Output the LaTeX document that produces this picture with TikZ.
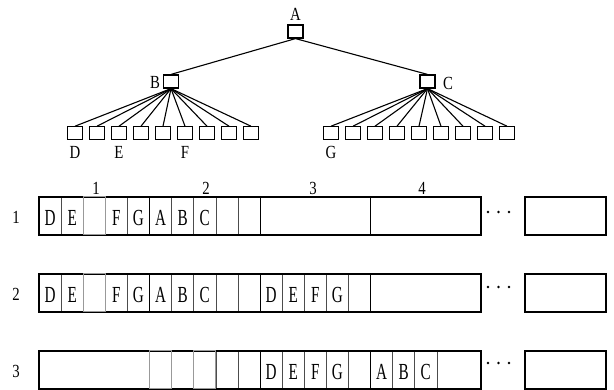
\documentclass[tikz,border=0pt]{standalone}
\usepackage{fontspec}
\setmainfont{Liberation Serif}
\newfontfamily\labelfont[FakeStretch=0.8]{Liberation Serif}
\newfontfamily\cellfont[FakeStretch=0.66]{Liberation Serif}
\begin{document}
\begin{tikzpicture}[x=1pt,y=-1pt,
  tbox/.style={draw, line width=1.2pt, minimum width=15pt, minimum height=13pt, inner sep=0pt, fill=white},
  lbl/.style={inner sep=0pt, font=\labelfont\fontsize{18.5}{18.5}\selectfont},
  cell/.style={inner sep=0pt, font=\cellfont\fontsize{23}{23}\selectfont},
  frame/.style={line width=1.4pt},
  pagesep/.style={line width=1pt},
  divider/.style={line width=0.5pt, black!70},
  freecell/.style={draw=black!40, line width=1pt},
  edge/.style={line width=1.1pt},
  dot/.style={circle, fill, inner sep=0pt, minimum size=2.6pt}
]
\useasboundingbox (0,0) rectangle (614,390);

% ---------- tree ----------
\node[tbox] (A) at (295.5,31.5) {};
\node[tbox] (B) at (171,81.5) {};
\node[tbox] (C) at (427.5,81.5) {};
\node[lbl] (lA) at (295.5,14) {A};
\node[lbl] (lB) at (155,82) {B};
\node[lbl] (lC) at (448,83) {C};
\draw[edge] (A.south) -- (B.north);
\draw[edge] (A.south) -- (C.north);
\foreach \i in {0,...,8} {
  \node[tbox] (b\i) at ({75+22*\i},133.3) {};
  \draw[edge] (B.south) -- (b\i.north);
  \node[tbox] (c\i) at ({331+22*\i},133.3) {};
  \draw[edge] (C.south) -- (c\i.north);
}
\node[lbl] (lD) at (75,152) {D};
\node[lbl] (lE) at (119,152) {E};
\node[lbl] (lF) at (185,152) {F};
\node[lbl] (lG) at (331,152) {G};

% ---------- page numbers ----------
\node[lbl] (p1) at (96,188) {1};
\node[lbl] (p2) at (206,188) {2};
\node[lbl] (p3) at (313,188) {3};
\node[lbl] (p4) at (422,188) {4};

% ---------- row 1 ----------
\node[lbl] (row1) at (16,217) {1};
\foreach \k in {1,2,3,4,6,7,8,9}
  \draw[divider] ({39+22.1*\k},197) -- ({39+22.1*\k},235);
\foreach \k/\t in {0/D,1/E,3/F,4/G,5/A,6/B,7/C}
  \node[cell] (r1c\k) at ({39+22.1*(\k+0.5)},218) {\t};
\draw[pagesep] (149.5,197) -- (149.5,235);
\draw[pagesep] (260,197) -- (260,235);
\draw[pagesep] (370.5,197) -- (370.5,235);
\draw[frame] (39,197) rectangle (481,235);
\draw[freecell] ({39+22.1*2},197) rectangle ({39+22.1*3},235);
\draw[frame] (525,197) rectangle (606,235);
\node[dot] (d1a) at (488,212) {};
\node[dot] (d1b) at (498.5,212) {};
\node[dot] (d1c) at (509,212) {};

% ---------- row 2 ----------
\node[lbl] (row2) at (16,294) {2};
\foreach \k in {1,2,3,4,6,7,8,9,11,12,13,14}
  \draw[divider] ({39+22.1*\k},274) -- ({39+22.1*\k},312);
\foreach \k/\t in {0/D,1/E,3/F,4/G,5/A,6/B,7/C,10/D,11/E,12/F,13/G}
  \node[cell] (r2c\k) at ({39+22.1*(\k+0.5)},295) {\t};
\draw[pagesep] (149.5,274) -- (149.5,312);
\draw[pagesep] (260,274) -- (260,312);
\draw[pagesep] (370.5,274) -- (370.5,312);
\draw[frame] (39,274) rectangle (481,312);
\draw[freecell] ({39+22.1*2},274) rectangle ({39+22.1*3},312);
\draw[frame] (525,274) rectangle (606,312);
\node[dot] (d2a) at (488,287) {};
\node[dot] (d2b) at (498.5,287) {};
\node[dot] (d2c) at (509,287) {};

% ---------- row 3 ----------
\node[lbl] (row3) at (16,371) {3};
\foreach \k in {6,7,8,9,11,12,13,14,16,17,18}
  \draw[divider] ({39+22.1*\k},351) -- ({39+22.1*\k},389);
\foreach \k/\t in {10/D,11/E,12/F,13/G,15/A,16/B,17/C}
  \node[cell] (r3c\k) at ({39+22.1*(\k+0.5)},372) {\t};
\draw[pagesep] (149.5,351) -- (149.5,389);
\draw[pagesep] (260,351) -- (260,389);
\draw[pagesep] (370.5,351) -- (370.5,389);
\draw[frame] (39,351) rectangle (481,389);
\draw[freecell] ({39+22.1*5},351) rectangle ({39+22.1*6},389);
\draw[freecell] ({39+22.1*7},351) rectangle ({39+22.1*8},389);
\draw[frame] (525,351) rectangle (606,389);
\node[dot] (d3a) at (488,363) {};
\node[dot] (d3b) at (498.5,363) {};
\node[dot] (d3c) at (509,363) {};
\end{tikzpicture}
\end{document}
